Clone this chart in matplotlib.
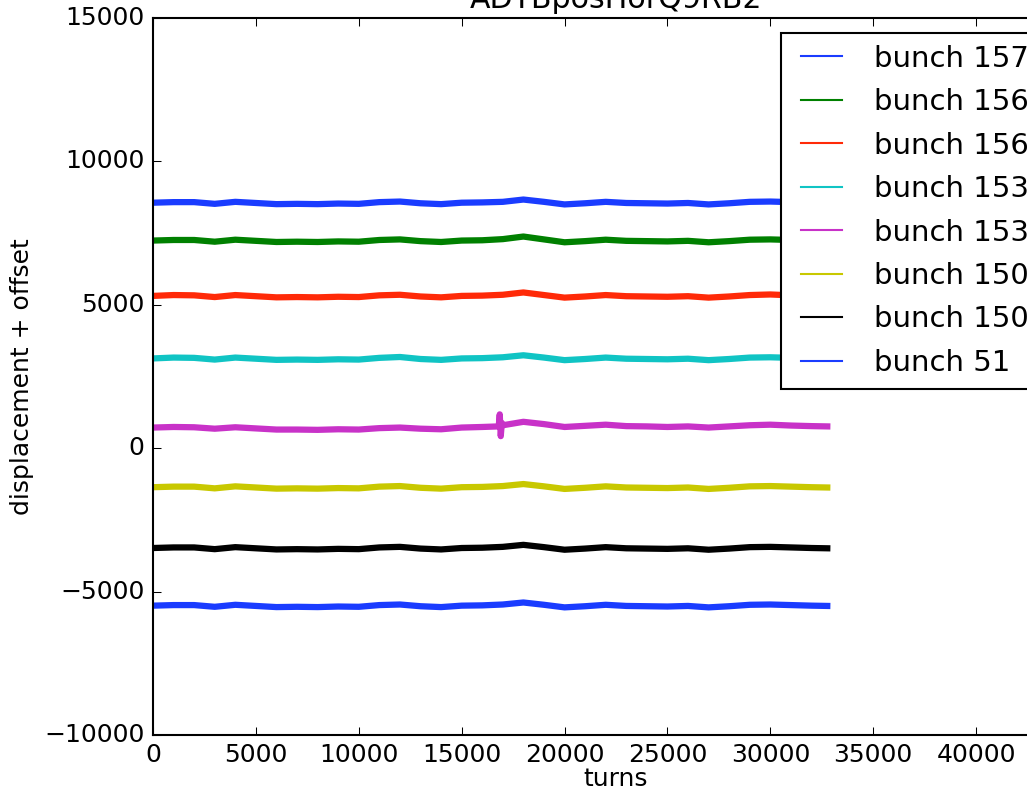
import matplotlib
matplotlib.use("Agg")
import matplotlib.pyplot as plt
from matplotlib.lines import Line2D

plt.style.use('classic')

turns = [0, 1000, 2000, 3000, 4000, 5000, 6000, 7000, 8000, 9000, 10000,
         11000, 12000, 13000, 14000, 15000, 16000, 17000, 18000, 19000, 20000,
         21000, 22000, 23000, 24000, 25000, 26000, 27000, 28000, 29000, 30000,
         31000, 32000, 32767]

turns_m = [0, 1000, 2000, 3000, 4000, 5000, 6000, 7000, 8000, 9000, 10000,
           11000, 12000, 13000, 14000, 15000, 16000, 16800, 16850, 16900, 16950,
           17000, 18000, 19000, 20000, 21000, 22000, 23000, 24000, 25000, 26000,
           27000, 28000, 29000, 30000, 31000, 32000, 32767]

labels = ["bunch 1574", "bunch 1565", "bunch 1562", "bunch 1535",
          "bunch 1532", "bunch 1505", "bunch 1502", "bunch 51"]

colors = ["#1a3cff", "#008000", "#ff2a08", "#10c4c4",
          "#c832c8", "#c8c800", "#000000", "#1a3cff"]

b1574 = [8560, 8580, 8580, 8520, 8590, 8550, 8510, 8520, 8510, 8530, 8520,
         8580, 8600, 8540, 8510, 8560, 8570, 8590, 8670, 8590, 8500, 8540,
         8590, 8550, 8540, 8530, 8550, 8500, 8540, 8590, 8600, 8580, 8560, 8550]
b1565 = [7240, 7260, 7260, 7200, 7270, 7230, 7190, 7200, 7190, 7210, 7200,
         7260, 7280, 7220, 7190, 7240, 7250, 7290, 7380, 7280, 7180, 7220,
         7270, 7230, 7220, 7210, 7230, 7180, 7220, 7270, 7280, 7260, 7240, 7230]
b1562 = [5310, 5340, 5330, 5270, 5340, 5300, 5260, 5270, 5260, 5280, 5270,
         5330, 5350, 5290, 5260, 5310, 5320, 5350, 5430, 5340, 5250, 5290,
         5340, 5300, 5290, 5280, 5300, 5250, 5290, 5340, 5360, 5330, 5310, 5300]
b1535 = [3130, 3160, 3150, 3090, 3160, 3120, 3080, 3090, 3080, 3100, 3090,
         3150, 3180, 3110, 3080, 3130, 3140, 3170, 3240, 3160, 3070, 3110,
         3160, 3120, 3110, 3100, 3120, 3070, 3110, 3160, 3170, 3150, 3130, 3120]
b1532 = [720, 740, 730, 680, 730, 690, 650, 650, 640, 660, 650,
         700, 720, 680, 660, 720, 740, 760, 1180, 420, 880,
         800, 920, 840, 740, 780, 820, 770, 760, 740, 760,
         720, 760, 800, 820, 790, 770, 760]
b1505 = [-1360, -1340, -1340, -1400, -1330, -1370, -1410, -1400, -1410, -1390,
         -1400, -1340, -1320, -1380, -1410, -1360, -1350, -1320, -1250, -1330,
         -1420, -1380, -1330, -1370, -1380, -1390, -1370, -1420, -1380, -1330,
         -1320, -1340, -1360, -1370]
b1502 = [-3480, -3460, -3460, -3520, -3450, -3490, -3530, -3520, -3530, -3510,
         -3520, -3460, -3440, -3500, -3530, -3480, -3470, -3440, -3370, -3450,
         -3540, -3500, -3450, -3490, -3500, -3510, -3490, -3540, -3500, -3450,
         -3440, -3460, -3480, -3490]
b51 = [-5490, -5470, -5470, -5530, -5460, -5500, -5540, -5530, -5540, -5520,
       -5530, -5470, -5450, -5510, -5540, -5490, -5480, -5450, -5380, -5460,
       -5550, -5510, -5460, -5500, -5510, -5520, -5500, -5550, -5510, -5460,
       -5450, -5470, -5490, -5500]

series = [b1574, b1565, b1562, b1535, b1532, b1505, b1502, b51]
xs = [turns, turns, turns, turns, turns_m, turns, turns, turns]

W, H, DPI = 1027, 792, 150
fig = plt.figure(figsize=(W / DPI, H / DPI), dpi=DPI, facecolor='white')
ax = fig.add_axes([153 / W, (H - 735) / H, 926 / W, 717 / H])
ax.set_facecolor('white')

for x, y, c in zip(xs, series, colors):
    ax.plot(x, y, color=c, lw=3.0, solid_joinstyle='round')

ax.set_xlim(0, 45000)
ax.set_ylim(-10000, 15000)
ax.set_xticks([0, 5000, 10000, 15000, 20000, 25000, 30000, 35000, 40000, 45000])
ax.set_yticks([-10000, -5000, 0, 5000, 10000, 15000])
ax.set_xlabel("turns", labelpad=0)
ax.set_ylabel("displacement + offset")
ax.set_title("ADTBposHorQ9RB2", fontsize=14.4, pad=5)

handles = [Line2D([], [], color=c, lw=1) for c in colors]
ax.legend(handles, labels, loc='upper left',
          bbox_to_anchor=((781 - 153) / 926, 1 - (33 - 18) / 717),
          borderaxespad=0, fontsize=14, labelspacing=0.53, frameon=True)

fig.savefig("out.png", dpi=DPI, facecolor='white')
